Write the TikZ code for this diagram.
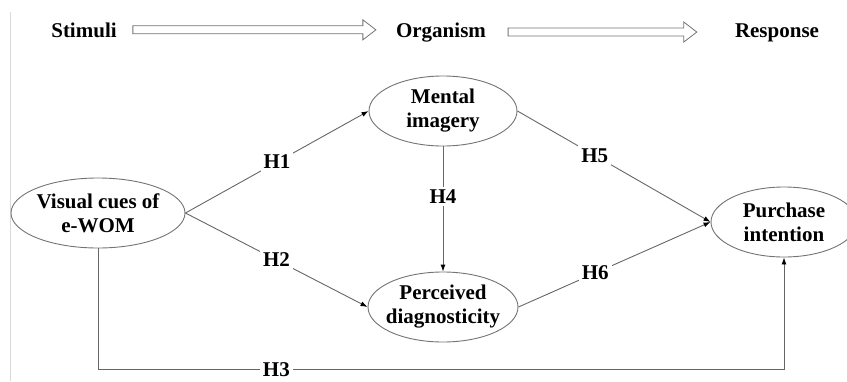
\documentclass[tikz,border=0pt]{standalone}
\usepackage{fontspec}
\setmainfont{Liberation Serif}
\usetikzlibrary{shapes.geometric,arrows.meta,calc}

\tikzset{
  big font/.style={font=\bfseries\fontsize{21}{24}\selectfont},
  construct/.style={draw=black!55, line width=0.9pt, ellipse, inner sep=0pt,
    minimum width=#1, minimum height=70pt},
  every label/.style={align=center, big font},
  stage/.style={big font, inner sep=0pt, anchor=base},
  path link/.style={draw=black!60, line width=0.9pt, -{Latex[length=7pt,width=5pt,black]}},
  hyp/.style={big font, fill=white, inner sep=3pt},
  hollow arrow/.style={draw=black!55, line width=0.8pt,
    to path={let \p1=(\tikztostart), \p2=(\tikztotarget) in
      (\x1,\y1+4pt) -- (\x2-13pt,\y1+4pt) -- (\x2-13pt,\y1+10pt) -- (\x2,\y1)
      -- (\x2-13pt,\y1-10pt) -- (\x2-13pt,\y1-4pt) -- (\x1,\y1-4pt) -- cycle}}
}

\begin{document}
\begin{tikzpicture}[x=1pt, y=-1pt]
  \useasboundingbox (0,0) rectangle (847,381);
  \draw [black!15] (10,12) -- (10,381); % page edge

  % S-O-R stages
  \node[stage] (stim) at (84,37) {Stimuli};
  \node[stage] (org) at (441,37) {Organism};
  \node[stage] (resp) at (777,37) {Response};
  \draw [hollow arrow] ([xshift=16pt]stim.east) to ([xshift=-20pt]org.west);
  \draw [hollow arrow] ([xshift=22pt]org.east) to ([xshift=-38pt]resp.west);

  % constructs
  \node[construct=174pt, label=center:{Visual cues of\\e-WOM}] (vis) at (98,213) {};
  \node[construct=148pt, label=center:{Mental\\imagery}] (men) at (443,111) {};
  \node[construct=150pt, label=center:{Perceived\\diagnosticity}] (per) at (443,307) {};
  \node[construct=146pt, label=center:{Purchase\\intention}] (pur) at (784,222) {};

  % hypotheses
  \draw [path link] (vis.south) -- ++(0,121) coordinate (h3l)
    -- node[hyp, pos=0.26, inner ysep=1pt] {H3} (h3l -| pur.south) -- (pur.south);
  \draw [path link] (vis.east) -- node[hyp] {H1} (men.west);
  \draw [path link] (vis.east) -- node[hyp] {H2} (per.west);
  \draw [path link] (men.south) -- node[hyp, pos=0.4] {H4} (per.north);
  \draw [path link] (men.east) -- node[hyp, pos=0.4] {H5} (pur.west);
  \draw [path link] (per.east) -- node[hyp, pos=0.4] {H6} (pur.west);
\end{tikzpicture}
\end{document}
